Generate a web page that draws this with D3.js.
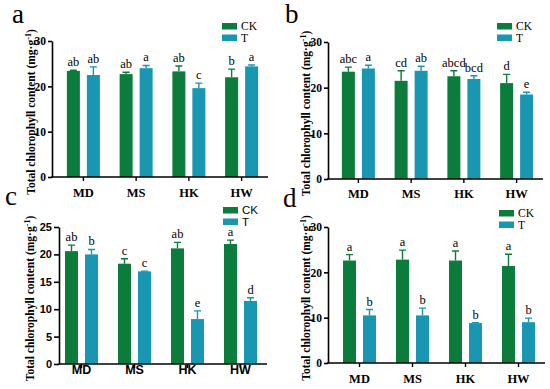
<!DOCTYPE html>
<html>
<head>
<meta charset="utf-8">
<script src="https://cdn.jsdelivr.net/npm/d3@7"></script>
<style>
  body { margin: 0; background: #fff; }
  svg { display: block; }
</style>
</head>
<body>
<div id="container"></div>
<script>
var categories = ["MD", "MS", "HK", "HW"];

// panel a
var aCK = [23.4, 22.7, 23.3, 22.0], aCKerr = [0.15, 0.4, 1.2, 1.8];
var aT = [22.5, 24.0, 19.6, 24.4], aTerr = [1.8, 0.6, 1.1, 0.3];
var aCKlab = ["ab", "ab", "ab", "b"], aTlab = ["ab", "a", "c", "a"];
// panel b
var bCK = [23.5, 21.5, 22.5, 21.0], bCKerr = [1.0, 2.2, 1.2, 1.9];
var bT = [24.2, 23.7, 21.9, 18.5], bTerr = [0.7, 1.0, 0.7, 0.5];
var bCKlab = ["abc", "cd", "abcd", "d"], bTlab = ["a", "ab", "bcd", "e"];
// panel c
var cCK = [20.6, 18.3, 21.1, 21.9], cCKerr = [1.1, 0.9, 1.1, 0.7];
var cT = [20.0, 16.9, 8.2, 11.5], cTerr = [0.9, 0.05, 1.5, 0.6];
var cCKlab = ["ab", "c", "ab", "a"], cTlab = ["b", "c", "e", "d"];
// panel d
var dCK = [22.6, 22.8, 22.6, 21.4], dCKerr = [1.3, 2.1, 2.1, 2.6];
var dT = [10.5, 10.5, 8.8, 9.0], dTerr = [1.3, 1.6, 0.1, 0.9];
var dCKlab = ["a", "a", "a", "a"], dTlab = ["b", "b", "b", "b"];

var yTicksA = [0, 10, 20, 30];
var yTicksC = [0, 5, 10, 15, 20, 25];

var green = "#0c7c3c", teal = "#1896b2";
var serif = "'Liberation Serif', 'Times New Roman', serif";
var sans = "'Liberation Sans', Arial, sans-serif";

var svg = d3.select("#container").append("svg")
    .attr("width", 550).attr("height", 389);

var panels = [
    {label: "a", lx: 12, ly: 23, ck: aCK, ckErr: aCKerr, t: aT, tErr: aTerr, ckLab: aCKlab, tLab: aTlab,
     axisX: 52, band: [57, 268], y: [177, 41], max: 30, ticks: yTicksA, font: serif,
     xLabY: 197, titleX: 35, leg: [222, 22]},
    {label: "b", lx: 285, ly: 23, ck: bCK, ckErr: bCKerr, t: bT, tErr: bTerr, ckLab: bCKlab, tLab: bTlab,
     axisX: 328, band: [332, 543], y: [179, 42], max: 30, ticks: yTicksA, font: serif,
     xLabY: 198, titleX: 310, leg: [497, 22]},
    {label: "c", lx: 5, ly: 205, ck: cCK, ckErr: cCKerr, t: cT, tErr: cTerr, ckLab: cCKlab, tLab: cTlab,
     axisX: 59, band: [55, 267], y: [364, 227], max: 25, ticks: yTicksC, font: sans,
     xLabY: 374, titleX: 34, leg: [223, 206]},
    {label: "d", lx: 283, ly: 207, ck: dCK, ckErr: dCKerr, t: dT, tErr: dTerr, ckLab: dCKlab, tLab: dTlab,
     axisX: 328, band: [333, 545], y: [363, 227], max: 30, ticks: yTicksA, font: serif,
     xLabY: 383, titleX: 310, leg: [499, 209]}
];

panels.forEach(function (p) {
    var g = svg.append("g");
    var x = d3.scaleBand().domain(categories).range(p.band);
    var y = d3.scaleLinear().domain([0, p.max]).range(p.y);
    var cx = function (i) { return x(categories[i]) + x.bandwidth() / 2; };
    var barW = 13, off = 10;

    // panel letter
    g.append("text").attr("x", p.lx).attr("y", p.ly)
        .attr("font-family", serif).attr("font-size", "27px").text(p.label);

    // bars + error bars + letters
    [{v: p.ck, e: p.ckErr, l: p.ckLab, c: green, dx: -off},
     {v: p.t, e: p.tErr, l: p.tLab, c: teal, dx: off}].forEach(function (s) {
        g.selectAll(null).data(s.v).enter().append("rect")
            .attr("x", function (d, i) { return cx(i) + s.dx - barW / 2; })
            .attr("y", function (d) { return y(d); })
            .attr("width", barW)
            .attr("height", function (d) { return y(0) - y(d); })
            .attr("fill", s.c);
        g.selectAll(null).data(s.v).enter().append("path")
            .attr("d", function (d, i) {
                var xc = cx(i) + s.dx, top = y(d + s.e[i]);
                return "M" + xc + "," + y(d) + "V" + top + "M" + (xc - 3.5) + "," + top + "H" + (xc + 3.5);
            })
            .attr("stroke", s.c).attr("stroke-width", 1.4).attr("fill", "none");
        g.selectAll(null).data(s.v).enter().append("text")
            .attr("x", function (d, i) { return cx(i) + s.dx; })
            .attr("y", function (d, i) { return y(d + s.e[i]) - 4; })
            .attr("text-anchor", "middle")
            .attr("font-family", serif).attr("font-size", "12.5px")
            .text(function (d, i) { return s.l[i]; });
    });

    // y axis
    var ya = g.append("g").attr("transform", "translate(" + p.axisX + ",0)")
        .call(d3.axisLeft(y).tickValues(p.ticks).tickSize(p.font === sans ? 5 : 4).tickSizeOuter(0).tickPadding(2));
    ya.select(".domain").attr("stroke-width", 1.6);
    ya.selectAll(".tick line").attr("stroke-width", 1.6);
    ya.selectAll("text").attr("font-family", p.font).attr("font-weight", "bold")
        .attr("font-size", p.font === sans ? "11px" : "11.5px").attr("fill", "#000");

    // x axis
    var xa = g.append("g").attr("transform", "translate(0," + y(0) + ")")
        .call(d3.axisBottom(x).tickSize(4).tickSizeOuter(0).tickPadding(6));
    xa.select(".domain").attr("d", "M" + (p.axisX - 0.8) + ",0H" + p.band[1]).attr("stroke-width", 1.6);
    xa.selectAll(".tick line").attr("stroke-width", 1.4);
    xa.selectAll("text").attr("font-family", p.font).attr("font-weight", "bold")
        .attr("font-size", "12.5px").attr("fill", "#000")
        .attr("y", p.xLabY - y(0)).attr("dy", null);

    // y title
    var mid = (p.y[0] + p.y[1]) / 2 + 3;
    var tt = g.append("text")
        .attr("transform", "translate(" + p.titleX + "," + mid + ") rotate(-90)")
        .attr("text-anchor", "middle")
        .attr("font-family", serif).attr("font-weight", "bold").attr("font-size", "11.5px");
    tt.append("tspan").text("Total chlorophyll content (mg·g");
    tt.append("tspan").attr("baseline-shift", "super").attr("font-size", "8px").text("-1");
    tt.append("tspan").text(")");

    // legend
    var lg = g.append("g").attr("transform", "translate(" + p.leg[0] + "," + p.leg[1] + ")");
    [["CK", green], ["T", teal]].forEach(function (it, i) {
        lg.append("rect").attr("x", 0).attr("y", i * 11.5 + 1).attr("width", 15).attr("height", 6.5).attr("fill", it[1]);
        lg.append("text").attr("x", 19).attr("y", i * 11.5 + 8)
            .attr("font-family", p.font).attr("font-size", "11.5px").text(it[0]);
    });
});
</script>
</body>
</html>
